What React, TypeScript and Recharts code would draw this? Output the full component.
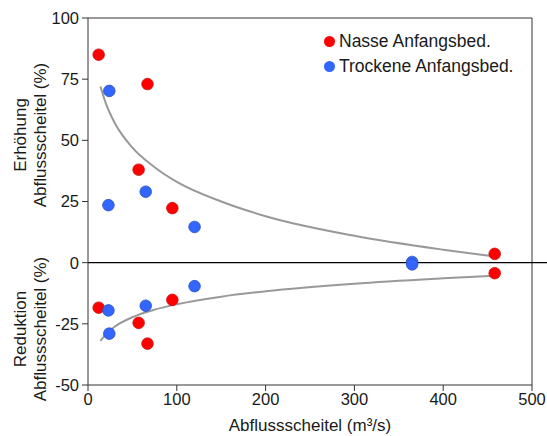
import {
  ScatterChart,
  Scatter,
  XAxis,
  YAxis,
  ReferenceLine,
  Label
} from 'recharts';

const xTicks = [0, 100, 200, 300, 400, 500];
const yTicks = [-50, -25, 0, 25, 50, 75, 100];

// Nasse Anfangsbedingungen
const wetX = [12, 67, 57, 95, 458];
const wetUp = [85, 73, 38, 22.3, 3.6];
const wetDownX = [12, 57, 67, 95, 458];
const wetDown = [-18.4, -24.6, -33.1, -15.2, -4.3];

// Trockene Anfangsbedingungen
const dryX = [24, 23, 65, 120, 365];
const dryUp = [70.2, 23.5, 29, 14.6, 0.3];
const dryDownX = [23, 24, 65, 120, 365];
const dryDown = [-19.5, -29, -17.6, -9.6, -0.7];

// Ausgleichskurven
const fitX = [14, 20, 30, 50, 75, 100, 150, 200, 300, 400, 458];
const fitUp = [72, 65.2, 57.2, 47, 39, 33, 25, 19, 11, 5.3, 2.5];
const fitDown = [-32, -29.3, -26.2, -22.3, -19.2, -17, -13.9, -11.7, -8.6, -6.4, -5.3];

const legendItems = [
  { name: 'Nasse Anfangsbed.', color: '#ff0000' },
  { name: 'Trockene Anfangsbed.', color: '#3366ff' }
];

const toPoints = (xs: number[], ys: number[]) => xs.map((x, i) => ({ x, y: ys[i] }));

const FONT = '"Liberation Sans", Arial, sans-serif';
const TEXT = '#1a1a1a';
const AXIS = '#333333';

const noShape = () => <g />;

function YLabels() {
  const lines = [
    { x: 20, y: 135, text: 'Erhöhung' },
    { x: 40, y: 135, text: 'Abflussscheitel (%)' },
    { x: 20, y: 329, text: 'Reduktion' },
    { x: 40, y: 329, text: 'Abflussscheitel (%)' }
  ];
  return (
    <g>
      {lines.map((l, i) => (
        <text
          key={i}
          x={l.x}
          y={l.y}
          transform={`rotate(-90 ${l.x} ${l.y})`}
          textAnchor="middle"
          dominantBaseline="central"
          fontSize={17}
          fontFamily={FONT}
          fill={TEXT}
        >
          {l.text}
        </text>
      ))}
    </g>
  );
}

function LegendBox() {
  return (
    <div
      style={{
        position: 'absolute',
        left: 324,
        top: 29,
        fontFamily: FONT,
        fontSize: 17.5,
        color: TEXT
      }}
    >
      {legendItems.map((item) => (
        <div key={item.name} style={{ display: 'flex', alignItems: 'center', height: 25 }}>
          <span
            style={{
              display: 'inline-block',
              width: 11,
              height: 11,
              borderRadius: '50%',
              background: item.color,
              marginRight: 4
            }}
          />
          <span style={{ whiteSpace: 'nowrap' }}>{item.name}</span>
        </div>
      ))}
    </div>
  );
}

const dot = (color: string, stroke: string) => (props: any) => (
  <circle cx={props.cx} cy={props.cy} r={5.8} fill={color} stroke={stroke} strokeWidth={0.8} />
);

export default function App() {
  const tick = { fontSize: 16.5, fontFamily: FONT, fill: TEXT };
  return (
    <div style={{ position: 'absolute', left: 0, top: 0, width: 547, height: 436, background: '#fff' }}>
      <ScatterChart width={547} height={436} margin={{ top: 18, right: 15, bottom: 0, left: 0 }}>
        <XAxis
          type="number"
          dataKey="x"
          domain={[0, 500]}
          ticks={xTicks}
          tick={tick}
          tickSize={6}
          stroke={AXIS}
          height={51}
          tickMargin={2}
          interval={0}
        >
          <Label
            value="Abflussscheitel (m³/s)"
            position="insideBottom"
            offset={0}
            dy={-5}
            style={{ fontSize: 17, fontFamily: FONT, fill: TEXT }}
          />
        </XAxis>
        <YAxis
          type="number"
          dataKey="y"
          domain={[-50, 100]}
          ticks={yTicks}
          tick={tick}
          tickSize={6}
          tickMargin={3}
          stroke={AXIS}
          width={88}
          interval={0}
          label={{ content: () => <YLabels /> }}
        />
        <ReferenceLine y={100} stroke={AXIS} strokeWidth={1} />
        <ReferenceLine x={500} stroke={AXIS} strokeWidth={1} />
        <ReferenceLine
          segment={[{ x: 0, y: 0 }, { x: 517, y: 0 }]}
          ifOverflow="visible"
          stroke="#000"
          strokeWidth={1.2}
        />
        <Scatter
          data={toPoints(fitX, fitUp)}
          line={{ stroke: '#999999', strokeWidth: 2 }}
          lineJointType="monotoneX"
          shape={noShape}
          legendType="none"
          isAnimationActive={false}
        />
        <Scatter
          data={toPoints(fitX, fitDown)}
          line={{ stroke: '#999999', strokeWidth: 2 }}
          lineJointType="monotoneX"
          shape={noShape}
          legendType="none"
          isAnimationActive={false}
        />
        <Scatter data={toPoints(wetX, wetUp)} shape={dot('#ff0000', '#cc1010')} isAnimationActive={false} />
        <Scatter data={toPoints(wetDownX, wetDown)} shape={dot('#ff0000', '#cc1010')} isAnimationActive={false} />
        <Scatter data={toPoints(dryX, dryUp)} shape={dot('#3366ff', '#2a4fc0')} isAnimationActive={false} />
        <Scatter data={toPoints(dryDownX, dryDown)} shape={dot('#3366ff', '#2a4fc0')} isAnimationActive={false} />
      </ScatterChart>
      <LegendBox />
    </div>
  );
}
